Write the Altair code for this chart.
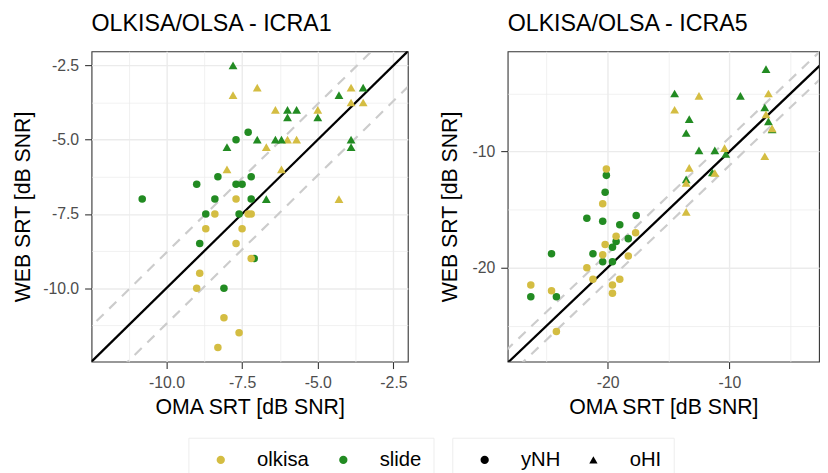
import altair as alt
import pandas as pd

YELLOW = "#D4BD42"
GREEN = "#228B22"
FONT = "Liberation Sans"

# ---------------- data ----------------
# Panel ICRA1
I1_OLK_OHI_X = [-7.8, -7.0, -3.9, -3.9, -3.5, -6.4, -5.0, -6.0, -5.7, -6.7, -8.0, -6.2, -4.3]
I1_OLK_OHI_Y = [-3.5, -3.25, -3.25, -3.75, -3.75, -4.0, -4.0, -5.0, -5.0, -5.25, -6.0, -6.0, -7.0]
I1_SLI_OHI_X = [-7.8, -4.3, -3.5, -6.0, -5.7, -6.0, -5.0, -7.0, -6.4, -6.2, -8.0, -3.9, -3.9, -6.7]
I1_SLI_OHI_Y = [-2.5, -3.5, -3.25, -4.0, -4.0, -4.25, -4.25, -5.0, -5.0, -5.0, -5.25, -5.0, -5.25, -7.0]
I1_SLI_YNH_X = [-10.8, -7.3, -7.7, -9.0, -8.3, -7.7, -7.5, -7.2, -8.4, -7.2, -8.7, -7.6, -8.9, -7.1, -8.1]
I1_SLI_YNH_Y = [-7.0, -4.75, -5.0, -6.5, -6.25, -6.5, -6.5, -6.25, -7.0, -7.0, -7.5, -7.5, -8.5, -9.0, -10.0]
I1_OLK_YNH_X = [-7.7, -8.4, -7.3, -7.2, -8.7, -7.5, -7.7, -7.2, -8.9, -9.0, -8.1, -7.6, -8.3]
I1_OLK_YNH_Y = [-7.0, -7.5, -7.5, -7.5, -8.0, -8.0, -8.5, -9.0, -9.5, -10.0, -11.0, -11.5, -12.0]

# Panel ICRA5
I5_SLI_OHI_X = [-7.0, -14.5, -9.1, -7.1, -13.3, -13.55, -6.8, -6.5, -12.5, -11.2, -10.3, -13.55, -11.4]
I5_SLI_OHI_Y = [-2.9, -5.0, -5.2, -6.2, -7.2, -8.4, -7.4, -8.1, -9.9, -9.9, -10.2, -12.4, -11.8]
I5_OLK_OHI_X = [-12.5, -6.8, -14.5, -7.0, -6.5, -10.4, -7.1, -13.3, -13.55, -11.2, -13.55]
I5_OLK_OHI_Y = [-5.2, -5.0, -6.4, -6.8, -8.0, -9.7, -10.4, -11.4, -12.7, -11.85, -15.2]
I5_SLI_YNH_X = [-20.1, -20.2, -21.7, -20.4, -17.65, -19.0, -18.3, -19.3, -19.6, -21.2, -20.4, -19.6, -24.6, -26.3, -24.2]
I5_SLI_YNH_Y = [-12.05, -13.5, -15.75, -16.0, -15.5, -16.3, -17.5, -17.75, -18.25, -18.8, -19.5, -19.5, -18.8, -22.5, -22.5]
I5_OLK_YNH_X = [-20.1, -20.4, -19.3, -17.7, -20.2, -20.4, -18.3, -21.7, -21.2, -19.6, -19.0, -19.6, -26.3, -24.6, -24.2]
I5_OLK_YNH_Y = [-11.5, -14.5, -17.3, -17.0, -18.0, -18.9, -19.0, -20.0, -21.0, -21.5, -21.0, -22.2, -21.5, -22.0, -25.5]

METHODS = ["olkisa", "slide"]
GROUPS = ["yNH", "oHI"]

# axis ticks
I1_MAJOR = [-10.0, -7.5, -5.0, -2.5]
I1_MINOR = [-11.25, -8.75, -6.25, -3.75]
I5_MAJOR = [-20, -10]
I5_MINOR = [-25, -15, -5]

# reference lines: identity and +/- offset
LINE_X = [-40.0, 10.0]
REF_OFFSET = 1.2


def points_df(parts):
    rows = []
    for method, group, xs, ys in parts:
        for x, y in zip(xs, ys):
            rows.append({"x": x, "y": y, "method": method, "group": group})
    return pd.DataFrame(rows)


def lines_df(offset):
    rows = []
    for kind, off in (("upper", offset), ("lower", -offset), ("id", 0.0)):
        for x in LINE_X:
            rows.append({"x": x, "y": x + off, "kind": kind})
    return pd.DataFrame(rows)


df1 = points_df([
    ("olkisa", "oHI", I1_OLK_OHI_X, I1_OLK_OHI_Y),
    ("slide", "oHI", I1_SLI_OHI_X, I1_SLI_OHI_Y),
    ("slide", "yNH", I1_SLI_YNH_X, I1_SLI_YNH_Y),
    ("olkisa", "yNH", I1_OLK_YNH_X, I1_OLK_YNH_Y),
])
df5 = points_df([
    ("slide", "oHI", I5_SLI_OHI_X, I5_SLI_OHI_Y),
    ("olkisa", "oHI", I5_OLK_OHI_X, I5_OLK_OHI_Y),
    ("slide", "yNH", I5_SLI_YNH_X, I5_SLI_YNH_Y),
    ("olkisa", "yNH", I5_OLK_YNH_X, I5_OLK_YNH_Y),
])

MINUS = "\u2212"


def make_axis(title, major, minor, fmt, orient, title_pad):
    majs = ",".join(str(v) for v in major)
    test = f"indexof([{majs}], datum.value) >= 0"
    return alt.Axis(
        title=title,
        values=sorted(major + minor),
        format=fmt,
        labelExpr=f"{test} ? replace(datum.label, '{MINUS}', '-') : ''",
        gridWidth={"condition": {"test": test, "value": 1.4}, "value": 0.7},
        tickOpacity={"condition": {"test": test, "value": 1}, "value": 0},
        orient=orient,
        titlePadding=title_pad,
    )


LEG_Y = 391
color_legend = alt.Legend(
    title=None, orient="none", legendX=98, legendY=LEG_Y, direction="horizontal",
    labelFontSize=20.5, labelFont=FONT, labelColor="black", symbolSize=70,
    symbolType="circle", symbolStrokeWidth=0, padding=12, symbolOffset=10.5,
    labelOffset=26.5, columnPadding=14, strokeColor="#EDEDED",
)
shape_legend = alt.Legend(
    title=None, orient="none", legendX=365, legendY=LEG_Y, direction="horizontal",
    labelFontSize=20.5, labelFont=FONT, labelColor="black", symbolSize=70,
    symbolFillColor="black", symbolStrokeColor="black", symbolStrokeWidth=0,
    padding=12, symbolOffset=10.5, labelOffset=26.5, columnPadding=12,
    strokeColor="#EDEDED",
)

COLOR_SCALE = alt.Scale(domain=METHODS, range=[YELLOW, GREEN])
SHAPE_SCALE = alt.Scale(domain=GROUPS, range=["circle", "triangle-up"])
POINT_SIZE = {"yNH": 58, "oHI": 80}


def panel(df, title, xdom, ydom, major, minor, fmt, width, height, ytitle_pad):
    xs = alt.Scale(domain=xdom, nice=False, zero=False)
    ys = alt.Scale(domain=ydom, nice=False, zero=False)
    xax = make_axis("OMA SRT [dB SNR]", major, minor, fmt, "bottom", 6)
    yax = make_axis("WEB SRT [dB SNR]", major, minor, fmt, "left", ytitle_pad)
    ldf = lines_df(REF_OFFSET)
    dashed = alt.Chart(ldf).transform_filter("datum.kind != 'id'").mark_line(
        clip=True, color="#CCCCCC", strokeWidth=2.2, strokeDash=[10, 8]
    ).encode(
        x=alt.X("x:Q", scale=xs, axis=xax),
        y=alt.Y("y:Q", scale=ys, axis=yax),
        detail="kind:N",
    )
    ident = alt.Chart(ldf).transform_filter("datum.kind == 'id'").mark_line(
        clip=True, color="black", strokeWidth=2.3
    ).encode(x=alt.X("x:Q", scale=xs), y=alt.Y("y:Q", scale=ys))
    layers = [dashed, ident]
    for g in GROUPS:
        layers.append(
            alt.Chart(df[df["group"] == g]).mark_point(
                filled=True, opacity=1, strokeWidth=0, size=POINT_SIZE[g]
            ).encode(
                x=alt.X("x:Q", scale=xs),
                y=alt.Y("y:Q", scale=ys),
                color=alt.Color("method:N", scale=COLOR_SCALE, legend=color_legend),
                shape=alt.Shape("group:N", scale=SHAPE_SCALE, legend=shape_legend),
            )
        )
    return alt.layer(*layers).properties(
        width=width, height=height,
        title=alt.TitleParams(title, anchor="start", frame="group", fontSize=23.5, font=FONT,
                              fontWeight="normal", color="black", offset=16),
    )


p1 = panel(df1, "OLKISA/OLSA - ICRA1", [-12.475, -2.025], [-12.475, -2.025],
           I1_MAJOR, I1_MINOR, ".1f", 320, 314, 8)
p5 = panel(df5, "OLKISA/OLSA - ICRA5", [-28.2, -2.65], [-28.1, -1.36],
           I5_MAJOR, I5_MINOR, "d", 315, 314, 11)

chart = alt.hconcat(p1, p5, spacing=30).properties(
    padding={"left": 3.5, "top": 0, "right": 0, "bottom": 0},
    background="white",
).configure_view(
    stroke="#333333", strokeWidth=1.1
).configure_axis(
    domain=False, tickColor="#333333", tickSize=7, tickWidth=1.1,
    labelFont=FONT, labelFontSize=16, labelColor="#4D4D4D", labelPadding=6,
    titleFont=FONT, titleFontSize=21.5, titleFontWeight="normal", titleColor="black",
    gridColor="#EBEBEB",
)

chart.save("out.html", embed_options={"renderer": "svg", "actions": False})
